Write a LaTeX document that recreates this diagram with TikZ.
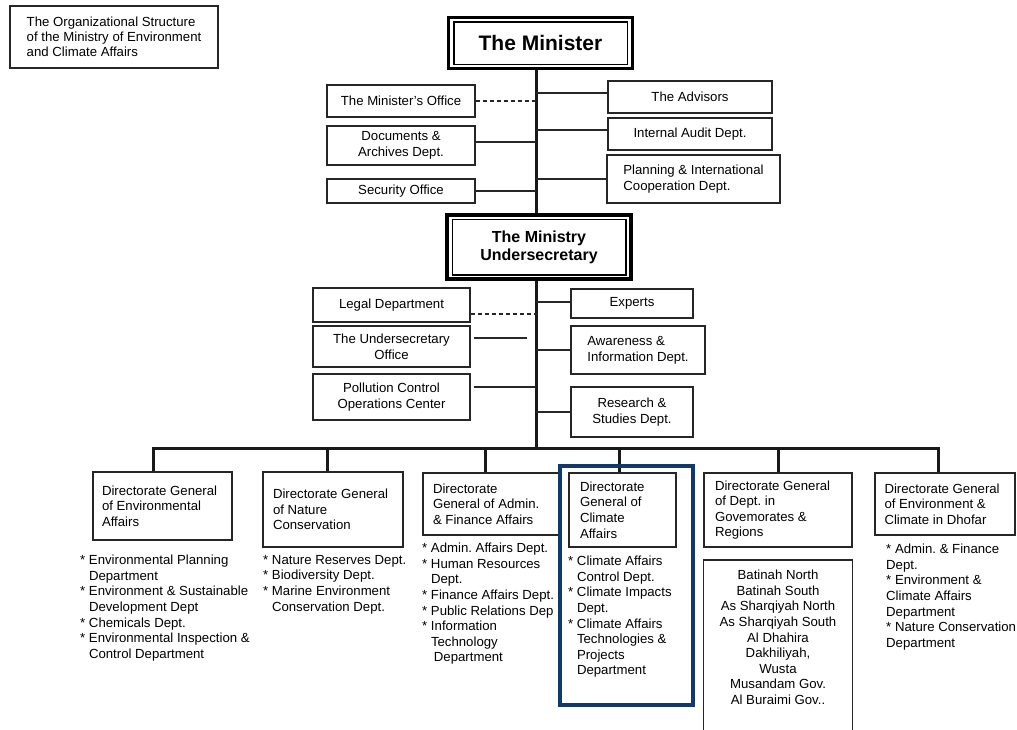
\documentclass[tikz,border=0pt]{standalone}
\usepackage{fontspec}
\setmainfont{Liberation Sans}
\usetikzlibrary{calc}
\definecolor{navy}{HTML}{0F3A6B}
\newcommand{\orgfs}{\fontsize{13.2}{15.6}\selectfont\frenchspacing}
\begin{document}
\frenchspacing
\begin{tikzpicture}[x=1pt,y=-1pt,
  boxline/.style={draw=black!85, line width=1.3pt},
  box/.style={boxline, inner sep=0pt, align=center, font=\orgfs, text=black},
  dirbox/.style={boxline, inner sep=0pt, align=flush left, font=\orgfs, text=black},
  headbox/.style={draw=black, line width=3.5pt, inner sep=0pt, align=center, text=black},
  trunk/.style={draw=black!90, line width=3pt},
  conn/.style={draw=black!85, line width=1.8pt},
  dashconn/.style={draw=black!85, line width=1.3pt, dash pattern=on 4pt off 3pt},
  listtext/.style={inner sep=0pt, align=flush left, anchor=north west, font=\orgfs, text=black}]
\useasboundingbox[fill=white] (0,0) rectangle (1017,729);

% title
\node[box, align=flush left, minimum width=208, minimum height=62, font=\fontsize{13.2}{15}\selectfont] (title) at (114,37)
  {The Organizational Structure\\of the Ministry of Environment\\and Climate Affairs};

% minister
\node[headbox, minimum width=184, minimum height=51, font=\bfseries\fontsize{21}{24}\selectfont] (min) at (540.5,43) {The Minister};
\draw[line width=1.5pt] ($(min.south west)+(7,-6)$) rectangle ($(min.north east)+(-7,6)$);

% undersecretary
\node[headbox, minimum width=184, minimum height=64, font=\bfseries\fontsize{16}{18}\selectfont] (ux) at (539,247) {The Ministry\\Undersecretary};
\draw[line width=1.5pt] ($(ux.south west)+(7,-6)$) rectangle ($(ux.north east)+(-7,6)$);

\coordinate (tk) at (536,0);

% minister side boxes
\node[box, minimum width=148, minimum height=32] (mo) at (401,101) {The Minister's Office};
\node[box, minimum width=148, minimum height=39] (doc) at (401,145.5) {Documents \&\\Archives Dept.};
\node[box, minimum width=148, minimum height=24] (sec) at (401,191) {Security Office};
\node[box, minimum width=164, minimum height=32] (adv) at (690,97) {The Advisors};
\node[box, minimum width=164, minimum height=32] (aud) at (690,134) {Internal Audit Dept.};
\node[box, align=flush left, minimum width=173, minimum height=48] (plan) at (693.5,179) {Planning \& International\\Cooperation Dept.};

% undersecretary side boxes
\node[box, minimum width=157, minimum height=34] (legal) at (391.5,305) {Legal Department};
\node[box, minimum width=157, minimum height=41] (uo) at (391.5,346.5) {The Undersecretary\\Office};
\node[box, minimum width=157, minimum height=46] (poll) at (391.5,397) {Pollution Control\\Operations Center};
\node[box, minimum width=122, minimum height=29] (exp) at (632,303.5) {Experts};
\node[box, align=flush left, minimum width=134, minimum height=48] (aw) at (638,350) {Awareness \&\\Information Dept.};
\node[box, minimum width=122, minimum height=50] (res) at (632,412) {Research \&\\Studies Dept.};

% trunk
\draw[trunk] (min.south -| tk) -- (ux.north -| tk);
\coordinate (busmid) at (536,448);
\coordinate (uoend) at (527,338);
\draw[trunk] (ux.south -| tk) -- (busmid);

% side connectors
\draw[dashconn] (mo.east) -- ([xshift=2pt]mo.east -| tk);
\draw[conn] ([yshift=3.5pt]doc.east) -- ([yshift=3.5pt]doc.east -| tk);
\draw[conn] (sec.east) -- (sec.east -| tk);
\draw[conn] ([yshift=4pt]adv.west) -- ([yshift=4pt]adv.west -| tk);
\draw[conn] ([yshift=4pt]aud.west) -- ([yshift=4pt]aud.west -| tk);
\draw[conn] (plan.west) -- (plan.west -| tk);
\draw[dashconn] ([yshift=-9pt]legal.east) -- ([yshift=-9pt,xshift=2pt]legal.east -| tk);
\draw[conn] ([yshift=8.5pt,xshift=3pt]uo.east) -- (uoend);
\draw[conn] ([yshift=10pt,xshift=3pt]poll.east) -- ([yshift=10pt]poll.east -| tk);
\draw[conn] ([yshift=1.5pt]exp.west) -- ([yshift=1.5pt]exp.west -| tk);
\draw[conn] (aw.west) -- (aw.west -| tk);
\draw[conn] (res.west) -- (res.west -| tk);

% directorates
\node[dirbox, minimum width=139, minimum height=68, text width=121] (d1) at (162.5,506) {Directorate General\\of Environmental\\Affairs};
\node[dirbox, minimum width=140, minimum height=75, text width=120] (d2) at (333,509.5) {Directorate General\\of Nature\\Conservation};
\node[dirbox, minimum width=137, minimum height=62, text width=117] (d3) at (491.5,504) {Directorate\\General of Admin.\\\& Finance Affairs};
\node[dirbox, minimum width=107, minimum height=74, text width=85] (d4) at (622.5,510) {Directorate\\General of\\Climate\\Affairs};
\node[dirbox, minimum width=148, minimum height=74, text width=126] (d5) at (778,510) {Directorate General\\of Dept. in\\Govemorates \&\\Regions};
\node[dirbox, minimum width=140, minimum height=62, text width=121] (d6) at (945,504) {Directorate General\\of Environment \&\\Climate in Dhofar};

% bus and drops
\coordinate (busR) at (938,448);
\draw[trunk] ([xshift=-9.5pt]d1.north) |- (busR) -- ([xshift=-7pt]d6.north);
\draw[trunk] ([xshift=-6pt]d2.north) -- ([xshift=-6pt]d2.north |- busR);
\draw[trunk] ([xshift=-6.5pt]d3.north) -- ([xshift=-6.5pt]d3.north |- busR);
\draw[trunk] ([xshift=-3.5pt]d4.north) -- ([xshift=-3.5pt]d4.north |- busR);
\draw[trunk] (d5.north) -- (d5.north |- busR);

% lists
\node[listtext] (l1) at (80,555) {* Environmental Planning\\\hphantom{* }Department\\* Environment \& Sustainable\\\hphantom{* }Development Dept\\* Chemicals Dept.\\* Environmental Inspection \&\\\hphantom{* }Control Department};
\node[listtext] (l2) at (263,555) {* Nature Reserves Dept.\\* Biodiversity Dept.\\* Marine Environment\\\hphantom{* }Conservation Dept.};
\node[listtext] (l3) at (422,543) {* Admin. Affairs Dept.\\* Human Resources\\\hphantom{* }Dept.\\* Finance Affairs Dept.\\* Public Relations Dep\\* Information\\\hphantom{* }Technology\\\hphantom{* i}Department};
\node[listtext] (l4) at (568,556) {* Climate Affairs\\\hphantom{* }Control Dept.\\* Climate Impacts\\\hphantom{* }Dept.\\* Climate Affairs\\\hphantom{* }Technologies \&\\\hphantom{* }Projects\\\hphantom{* }Department};
\node[listtext] (l6) at (886,544) {* Admin. \& Finance\\Dept.\\* Environment \&\\Climate Affairs\\Department\\* Nature Conservation\\Department};

% governorates box
\node[minimum width=148, minimum height=180, anchor=north, inner sep=0pt] (gbox) at (778,560) {};
\draw[boxline] (gbox.south west) -- (gbox.north west) -- (gbox.north east) -- (gbox.south east);
\node[inner sep=0pt, align=center, anchor=north, font=\orgfs, text=black] (glist) at (778,570)
  {Batinah North\\Batinah South\\As Sharqiyah North\\As Sharqiyah South\\Al Dhahira\\Dakhiliyah,\\Wusta\\Musandam Gov.\\Al Buraimi Gov..};

% highlight
\node[draw=navy, line width=4pt, minimum width=133, minimum height=239, inner sep=0pt] (hl) at (626.5,585.5) {};
\end{tikzpicture}
\end{document}
